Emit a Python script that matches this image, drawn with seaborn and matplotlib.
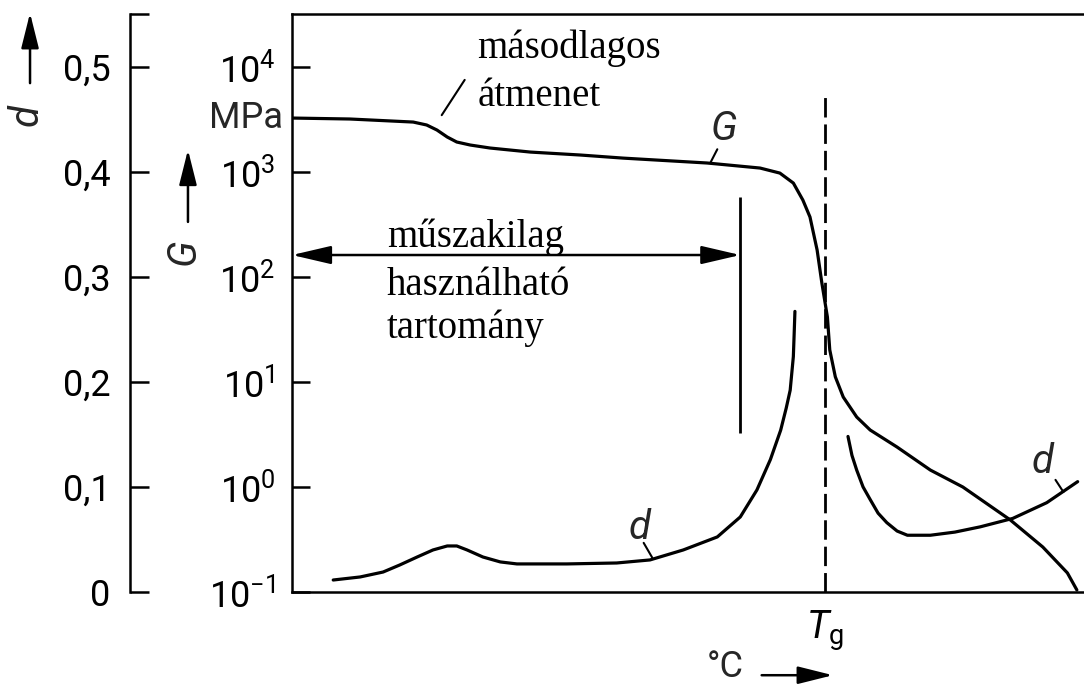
import numpy as np
import pandas as pd
import matplotlib
matplotlib.use("Agg")
import matplotlib.pyplot as plt
from matplotlib.patches import FancyArrowPatch
import seaborn as sns
from matplotlib.ticker import FixedLocator, FixedFormatter, NullLocator

# hőmérséklet tengely (önkényes egység, 0..100), G modulus MPa-ban
temp_G = [0.1, 7.3, 15.3, 17.0, 18.3, 19.6, 20.8, 22.5, 25.0, 30.1, 36.4, 41.8,
          52.4, 59.1, 61.6, 63.3, 64.5, 65.4, 66.3, 66.9, 67.6, 67.9, 68.6,
          69.6, 71.3, 73.0, 76.4, 80.6, 84.7, 90.7, 94.8, 97.9, 99.1]
G_mpa = [3266, 3199, 2992, 2805, 2512, 2154, 1931, 1808, 1693, 1549, 1452, 1357,
         1219, 1091, 977, 785, 541, 373, 181, 87.7, 41.6, 20.2, 11.2,
         7.19, 4.64, 3.49, 2.40, 1.45, 1.0, 0.485, 0.268, 0.152, 0.1045]

# veszteségi tényező d - üvegállapot ág
temp_d1 = [5.2, 8.6, 11.5, 13.6, 15.8, 17.8, 19.6, 20.8, 22.1, 24.1, 26.3, 28.4,
           34.7, 41.0, 45.2, 49.4, 53.7, 56.6, 58.7, 60.4, 61.7, 62.4, 62.9, 63.3,
           63.4, 63.5]
d1 = [0.0114, 0.0143, 0.0190, 0.0257, 0.0333, 0.0400, 0.0438, 0.0438, 0.0400,
      0.0333, 0.0286, 0.0267, 0.0267, 0.0276, 0.0305, 0.0400, 0.0524, 0.0714,
      0.0971, 0.126, 0.154, 0.175, 0.192, 0.224, 0.245, 0.267]

# d - gumirugalmas ág
temp_d2 = [70.2, 70.7, 71.3, 72.1, 73.0, 74.0, 75.1, 76.4, 77.7, 80.6, 83.7,
           86.9, 91.0, 95.3, 99.2]
d2 = [0.148, 0.130, 0.116, 0.100, 0.088, 0.075, 0.066, 0.058, 0.054, 0.054,
      0.057, 0.062, 0.070, 0.085, 0.105]

Tg = 67.3
usable_end = 56.6          # műszakilag használható tartomány vége
usable_G = 162             # nyíl magassága (MPa)
usable_span = [3.3, 575]   # függőleges határvonal (MPa)
tg_top = 5370

G_ticks = [0.1, 1, 10, 100, 1000, 10000]
G_labels = [r"10$^{\mathregular{-1}}$", r"10$^{\mathregular{0}}$", r"10$^{\mathregular{1}}$",
            r"10$^{\mathregular{2}}$", r"10$^{\mathregular{3}}$", r"10$^{\mathregular{4}}$"]
d_ticks = [0, 0.1, 0.2, 0.3, 0.4, 0.5, 0.55]
d_labels = ["0", "0,1", "0,2", "0,3", "0,4", "0,5", ""]

sns.set_theme(style="white")
sans = ["Roboto", "DejaVu Sans"]
serif = ["Liberation Serif", "DejaVu Serif"]
plt.rcParams["font.family"] = sans
plt.rcParams["mathtext.fontset"] = "custom"
plt.rcParams["mathtext.rm"] = "Roboto"
plt.rcParams["mathtext.it"] = "Roboto:italic"

fig = plt.figure(figsize=(10.84, 6.87), dpi=100)
ax = fig.add_axes([0.2694, 0.1383, 0.7306, 0.8413])
ax.set_yscale("log")
ax.set_xlim(0, 100)
ax.set_ylim(0.1, 10 ** 4.505)

lw = 2.3
sns.lineplot(x=temp_G, y=G_mpa, ax=ax, color="black", lw=lw, estimator=None, sort=False)

# G tengely
ax.yaxis.set_major_locator(FixedLocator(G_ticks))
ax.yaxis.set_major_formatter(FixedFormatter(G_labels))
ax.yaxis.set_minor_locator(NullLocator())
ax.tick_params(axis="y", direction="in", length=13, width=1.8, pad=12,
               labelsize=26, colors="black")
ax.set_xticks([Tg])
ax.set_xticklabels([r"$T_{\mathrm{g}}$"])
ax.tick_params(axis="x", direction="out", length=6, width=1.8, pad=6,
               labelsize=28, colors="black")
for s in ["left", "bottom", "top"]:
    ax.spines[s].set_linewidth(1.8)
    ax.spines[s].set_color("black")
ax.spines["right"].set_visible(False)
ax.text(-0.012, 3300, "MPa", transform=ax.get_yaxis_transform(), ha="right",
        va="center", fontsize=26)

# Tg szaggatott vonal
ax.vlines(Tg, 0.1, tg_top, colors="black", lw=2, linestyles=(0, (7, 2.5)))

# műszakilag használható tartomány
ax.annotate("", xy=(0, usable_G), xytext=(usable_end, usable_G),
            arrowprops=dict(arrowstyle="<|-|>,head_length=1.2,head_width=0.28",
                            color="black", lw=1.8, shrinkA=0, shrinkB=0,
                            mutation_scale=20))
ax.vlines(usable_end, usable_span[0], usable_span[1], colors="black", lw=2)

# d tengely
ax_d = ax.twinx()
ax_d.set_ylim(0, 0.55)
sns.lineplot(x=temp_d1, y=d1, ax=ax_d, color="black", lw=lw, estimator=None, sort=False)
sns.lineplot(x=temp_d2, y=d2, ax=ax_d, color="black", lw=lw, estimator=None, sort=False)
for s in ["right", "top", "bottom"]:
    ax_d.spines[s].set_visible(False)
ax_d.spines["left"].set_visible(True)
ax_d.spines["left"].set_position(("axes", -0.2045))
ax_d.spines["left"].set_linewidth(1.8)
ax_d.spines["left"].set_color("black")
ax_d.yaxis.set_ticks_position("left")
ax_d.yaxis.set_label_position("left")
ax_d.yaxis.set_major_locator(FixedLocator(d_ticks))
ax_d.yaxis.set_major_formatter(FixedFormatter(d_labels))
ax_d.tick_params(axis="y", direction="in", length=14, width=1.8, pad=14,
                 labelsize=26, colors="black")
ax_d.set_ylabel("")
ax.set_ylabel("")

# feliratok
txt = dict(family=serif, fontsize=28, color="black", va="baseline", ha="left")
ax.text(0.234, 0.924, "másodlagos", transform=ax.transAxes, **txt)
ax.text(0.234, 0.841, "átmenet", transform=ax.transAxes, **txt)
ax.text(0.120, 0.597, "műszakilag", transform=ax.transAxes, **txt)
ax.text(0.120, 0.514, "használható", transform=ax.transAxes, **txt)
ax.text(0.120, 0.439, "tartomány", transform=ax.transAxes, **txt)

lead = dict(arrowstyle="-", color="black", lw=1.5, shrinkA=0, shrinkB=0)
ax.annotate("", xy=(0.189, 0.825), xytext=(0.218, 0.886),
            xycoords="axes fraction", arrowprops=lead)
ax.text(0.545, 0.801, "G", transform=ax.transAxes, fontsize=29,
        fontstyle="italic", ha="center", va="center")
ax.annotate("", xy=(0.528, 0.742), xytext=(0.537, 0.766),
            xycoords="axes fraction", arrowprops=lead)
ax.text(0.439, 0.111, "d", transform=ax.transAxes, fontsize=29,
        fontstyle="italic", ha="center", va="center")
ax.annotate("", xy=(0.455, 0.059), xytext=(0.444, 0.085),
            xycoords="axes fraction", arrowprops=lead)
ax.text(0.948, 0.225, "d", transform=ax.transAxes, fontsize=29,
        fontstyle="italic", ha="center", va="center")
ax.annotate("", xy=(0.974, 0.173), xytext=(0.964, 0.194),
            xycoords="axes fraction", arrowprops=lead)

# tengelyfeliratok nyilakkal
arrow_style = "-|>,head_length=1.2,head_width=0.3"
ax.text(0.570, -0.161, "°C", transform=ax.transAxes, fontsize=26,
        ha="right", va="bottom")
ax.annotate("", xy=(0.683, -0.144), xytext=(0.593, -0.144),
            xycoords="axes fraction",
            arrowprops=dict(arrowstyle=arrow_style, color="black", lw=1.8,
                            shrinkA=0, shrinkB=0, mutation_scale=18))
fig.text(0.024, 0.833, "d", fontsize=29, fontstyle="italic", rotation=90,
         ha="center", va="center")
fig.patches.append(FancyArrowPatch(
    (0.0277, 0.879), (0.0277, 0.981), transform=fig.transFigure,
    arrowstyle=arrow_style, mutation_scale=18,
    color="black", lw=1.8, shrinkA=0, shrinkB=0))
fig.text(0.169, 0.633, "G", fontsize=29, fontstyle="italic", rotation=90,
         ha="center", va="center")
fig.patches.append(FancyArrowPatch(
    (0.1734, 0.677), (0.1734, 0.782), transform=fig.transFigure,
    arrowstyle=arrow_style, mutation_scale=18,
    color="black", lw=1.8, shrinkA=0, shrinkB=0))

fig.savefig("out.png", dpi=100, facecolor="white")
